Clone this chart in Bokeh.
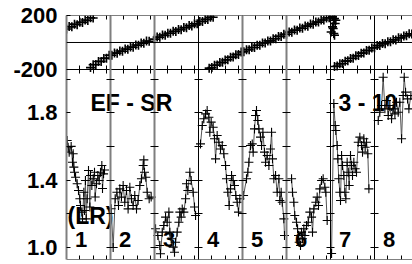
from bokeh.plotting import figure
from bokeh.models import (Range1d, LinearAxis, FixedTicker, PrintfTickFormatter,
                          CustomJSTickFormatter, Span)
from bokeh.embed import file_html
from bokeh.resources import INLINE
from bokeh.core.properties import value

FONT = "Liberation Sans"

# ---- day blocks (each day block spans 3.3 units on x) ----
day_starts = [0.0, 3.3, 6.6, 9.9, 13.2, 16.5, 19.8, 23.1]
day_labels = ["1", "2", "3", "4", "5", "6", "7", "8"]
divider_colors = ["#7f7f7f", "#7f7f7f", "#7f7f7f", "black", "#7f7f7f", "#7f7f7f", "black", "black"]
X_END = 25.95
x_ticks = [round(s + j, 2) for s in day_starts for j in range(4) if s + j < X_END]

# ---- top panel: phase (degrees) ----
phase_ticks = [-200, 200]
phA_x = [0.0, 0.2, 0.4, 0.6, 0.8, 1.0, 1.2, 1.4, 1.6, 1.8, 2.0]
phA_y = [100, 119, 116, 136, 131, 150, 149, 167, 163, 183, 181]
phB_x = [1.8, 2.0, 2.2, 2.4, 2.6, 2.8, 3.0, 3.2, 3.4, 3.6, 3.8, 4.0, 4.2, 4.4, 4.6, 4.8,
         5.0, 5.2, 5.4, 5.6, 5.8, 6.0, 6.2]
phB_y = [-186, -165, -163, -141, -140, -118, -116, -95, -94, -78, -79, -63, -65, -48, -50,
         -33, -35, -19, -20, -4, -6, 11, 9]
phC_x = [6.6, 6.8, 7.0, 7.2, 7.4, 7.6, 7.8, 8.0, 8.2, 8.4, 8.6, 8.8, 9.0, 9.2, 9.4, 9.6,
         9.8, 10.0, 10.2, 10.4, 10.6, 10.8, 11.0]
phC_y = [25, 40, 39, 55, 53, 69, 68, 83, 81, 97, 95, 111, 109, 125, 123, 139, 138, 155,
         155, 171, 171, 187, 187]
phE_x = [10.7, 10.9, 11.1, 11.3, 11.5, 11.7, 11.9, 12.1, 12.3, 12.5, 12.7, 12.9, 13.1, 13.3,
         13.5, 13.7, 13.9, 14.1, 14.3, 14.5, 14.7, 14.9, 15.1, 15.3, 15.5, 15.7, 15.9, 16.1,
         16.3, 16.5, 16.7, 16.9, 17.1, 17.3, 17.5, 17.7, 17.9, 18.1, 18.3, 18.5, 18.7, 18.9,
         19.1, 19.3, 19.5, 19.7]
phE_y = [-190, -186, -169, -167, -149, -147, -130, -128, -110, -108, -90, -88, -70, -69,
         -53, -53, -37, -37, -20, -20, -4, -4, 12, 12, 28, 28, 45, 45, 61, 61, 77, 76, 92,
         91, 107, 106, 122, 121, 137, 136, 152, 151, 167, 167, 182, 183]
phF_x = [19.95, 20.05, 20.15, 19.95, 20.05, 19.85, 20.1, 20.2, 20.0, 20.1]
phF_y = [190, 165, 141, 116, 67, 78, 178, 165, 104, 54]
phG_x = [20.1, 20.3, 20.5, 20.7, 20.9, 21.1, 21.3, 21.5, 21.7, 21.9, 22.1, 22.3, 22.5, 22.7,
         22.9, 23.1, 23.3, 23.5, 23.7, 23.9, 24.1, 24.3, 24.5, 24.7, 24.9, 25.1, 25.3, 25.5,
         25.7, 25.9]
phG_y = [-178, -175, -158, -156, -138, -136, -118, -117, -99, -97, -79, -78, -60, -58, -40,
         -39, -23, -23, -8, -9, 6, 5, 20, 19, 35, 34, 49, 50, 64, 63]

# ---- bottom panel: EF - SR ratio ----
ratio_major = [1.0, 1.4, 1.8]
ratio_minor = [1.2, 1.6, 2.0]
d1_x = [0.05, 0.12, 0.2, 0.35, 0.45, 0.5, 0.55, 0.6, 0.68, 0.8, 0.9, 1.0, 1.05, 1.15, 1.2,
        1.3, 1.35, 1.42, 1.48, 1.55, 1.65, 1.75, 1.8, 1.9, 2.0, 2.1, 2.15, 2.25, 2.35, 2.45,
        2.55, 2.65, 2.7, 2.78, 2.85]
d1_y = [1.635, 1.595, 1.566, 1.60, 1.506, 1.556, 1.477, 1.447, 1.417, 1.378, 1.338, 1.289,
        1.249, 1.21, 1.17, 1.328, 1.22, 1.398, 1.17, 1.289, 1.457, 1.24, 1.427, 1.368, 1.408,
        1.447, 1.30, 1.378, 1.427, 1.398, 1.447, 1.487, 1.35, 1.437, 1.46]
d2_x = [3.35, 3.5, 3.65, 3.78, 3.9, 4.0, 4.12, 4.25, 4.37, 4.5, 4.62, 4.75, 4.87, 5.0, 5.12,
        5.25, 5.37, 5.5, 5.62, 5.75, 5.8, 5.85, 5.95, 6.05, 6.2, 6.35]
d2_y = [1.23, 1.0, 1.289, 1.328, 1.249, 1.348, 1.299, 1.368, 1.269, 1.338, 1.229, 1.358,
        1.289, 1.249, 1.309, 1.229, 1.279, 1.368, 1.408, 1.487, 1.52, 1.447, 1.417, 1.328,
        1.289, 1.299]
d3_x = [6.68, 6.85, 7.0, 7.05, 7.18, 7.3, 7.43, 7.55, 7.68, 7.75, 7.85, 8.0, 8.1, 8.18, 8.3,
        8.43, 8.5, 8.6, 8.68, 8.8, 8.93, 9.0, 9.1, 9.25, 9.35, 9.5, 9.6, 9.68]
d3_y = [1.111, 1.071, 1.012, 0.963, 1.091, 1.131, 1.18, 1.15, 1.21, 1.091, 1.052, 1.002,
        0.972, 1.031, 1.091, 1.15, 1.21, 1.18, 1.229, 1.21, 1.289, 1.378, 1.338, 1.447,
        1.398, 1.328, 1.24, 1.19]
d4_x = [10.05, 10.18, 10.3, 10.43, 10.55, 10.68, 10.75, 10.85, 11.0, 11.1, 11.18, 11.3,
        11.43, 11.55, 11.68, 11.8, 11.93, 12.0, 12.1, 12.2, 12.3, 12.38, 12.5, 12.6, 12.7,
        12.8, 12.9, 13.0]
d4_y = [1.615, 1.724, 1.764, 1.793, 1.813, 1.773, 1.684, 1.744, 1.714, 1.645, 1.526, 1.665,
        1.625, 1.585, 1.605, 1.556, 1.487, 1.408, 1.328, 1.249, 1.348, 1.427, 1.398, 1.368,
        1.309, 1.269, 1.21, 1.289]
d5_x = [13.28, 13.5, 13.6, 13.68, 13.8, 13.93, 14.0, 14.1, 14.18, 14.25, 14.35, 14.43, 14.55,
        14.63, 14.73, 14.85, 14.93, 15.05, 15.18, 15.3, 15.38, 15.45, 15.55, 15.68, 15.8,
        15.93, 16.0, 16.1, 16.18, 16.3, 16.35]
d5_y = [1.309, 1.408, 1.447, 1.506, 1.605, 1.615, 1.566, 1.704, 1.783, 1.813, 1.754, 1.704,
        1.655, 1.605, 1.684, 1.566, 1.506, 1.546, 1.487, 1.585, 1.684, 1.526, 1.408, 1.427,
        1.328, 1.408, 1.279, 1.328, 1.269, 1.17, 1.071]
d6_x = [16.88, 16.95, 17.05, 17.12, 17.25, 17.33, 17.4, 17.45, 17.55, 17.63, 17.7, 17.8,
        17.88, 18.0, 18.13, 18.25, 18.38, 18.45, 18.55, 18.7, 18.8, 18.9, 19.0, 19.13, 19.25,
        19.38, 19.45, 19.55]
d6_y = [1.408, 1.328, 1.269, 1.19, 1.15, 1.111, 1.071, 1.031, 1.012, 1.091, 1.052, 1.111,
        1.071, 1.131, 1.15, 1.21, 1.18, 1.091, 1.229, 1.269, 1.299, 1.249, 1.348, 1.398,
        1.408, 1.358, 1.328, 1.16]
d7_x = [19.88, 20.05, 20.15, 20.2, 20.3, 20.35, 20.42, 20.5, 20.55, 20.63, 20.7, 20.8, 20.88,
        20.95, 21.05, 21.13, 21.2, 21.3, 21.38, 21.45, 21.55, 21.65, 21.75, 21.88, 22.0,
        22.13, 22.2, 22.3, 22.4, 22.5, 22.6, 22.68]
d7_y = [0.964, 1.855, 1.724, 1.694, 1.605, 1.526, 1.408, 1.328, 1.279, 1.546, 1.487, 1.427,
        1.328, 1.289, 1.506, 1.447, 1.368, 1.546, 1.487, 1.427, 1.506, 1.467, 1.447, 1.625,
        1.655, 1.605, 1.566, 1.645, 1.595, 1.625, 1.556, 1.348]
d8_x = [23.38, 23.5, 23.63, 23.75, 23.88, 24.0, 24.13, 24.25, 24.38, 24.5, 24.63, 24.75,
        24.88, 25.0, 25.13, 25.25, 25.33, 25.43, 25.58, 25.68, 25.83]
d8_y = [1.754, 1.803, 1.843, 2.01, 1.823, 1.872, 1.783, 1.843, 1.764, 1.823, 1.793, 1.862,
        1.803, 1.862, 1.645, 1.902, 2.01, 1.922, 1.882, 1.823, 1.902]

phase_sets = [(phA_x, phA_y), (phB_x, phB_y), (phC_x, phC_y), (phE_x, phE_y),
              (phF_x, phF_y), (phG_x, phG_y)]
ratio_sets = [(d1_x, d1_y), (d2_x, d2_y), (d3_x, d3_y), (d4_x, d4_y),
              (d5_x, d5_y), (d6_x, d6_y), (d7_x, d7_y), (d8_x, d8_y)]

# ---- ranges: lower panel uses the main y range, upper panel the "phase" range ----
RATIO_LO, RATIO_SPLIT = 0.9288, 2.0564
PX_PER_RATIO = 168.5
PANEL_TOP_PX = 54.0
RATIO_HI = round(RATIO_SPLIT + PANEL_TOP_PX / PX_PER_RATIO, 4)
PHASE_HI = 200.0
PHASE_LO = -200.0 - (RATIO_SPLIT - RATIO_LO) * PX_PER_RATIO * 400.0 / PANEL_TOP_PX


def phase_to_ratio(v):
    return round(RATIO_SPLIT + (v + 200.0) / 400.0 * (RATIO_HI - RATIO_SPLIT), 4)


phase_tick_pos = [phase_to_ratio(v) for v in phase_ticks]
label_overrides = {t: "%.1f" % t for t in ratio_major}
for pos, v in zip(phase_tick_pos, phase_ticks):
    label_overrides[pos] = "%d" % v

blank = CustomJSTickFormatter(code="return ''")

p = figure(width=412, height=264, x_range=Range1d(0, X_END),
           y_range=Range1d(RATIO_LO, RATIO_HI),
           output_backend="svg", toolbar_location=None,
           min_border_left=66, min_border_right=0, min_border_top=15, min_border_bottom=5)
p.extra_y_ranges = {"phase": Range1d(PHASE_LO, PHASE_HI)}
p.outline_line_color = None
p.grid.visible = False

# main left axis: ratio labels and the phase labels of the upper panel
ly = p.yaxis[0]
ly.ticker = FixedTicker(ticks=ratio_major + phase_tick_pos, minor_ticks=ratio_minor)
ly.formatter = PrintfTickFormatter(format="%.1f")
ly.major_label_overrides = label_overrides
ly.major_tick_in = 4
ly.major_tick_out = 0
ly.minor_tick_in = 4
ly.minor_tick_out = 0
ly.axis_line_color = divider_colors[0]
ly.axis_line_width = 2
ly.major_tick_line_color = "black"
ly.minor_tick_line_color = "black"
ly.major_label_text_font = FONT
ly.major_label_text_font_style = "bold"
ly.major_label_text_font_size = "22px"
ly.major_label_text_color = "black"
ly.major_label_standoff = 9

# x axes: bottom edge, panel separator, top edge (ticks only)
bx = p.xaxis[0]
bx.fixed_location = RATIO_LO
bx.ticker = FixedTicker(ticks=x_ticks, minor_ticks=[])
bx.formatter = blank
bx.major_tick_in = 4
bx.major_tick_out = 0
bx.minor_tick_line_color = None
bx.axis_line_color = "black"
bx.major_tick_line_color = "black"

sep = LinearAxis(y_range_name="phase", fixed_location=-200,
                 ticker=FixedTicker(ticks=x_ticks, minor_ticks=[]), formatter=blank,
                 major_tick_in=4, major_tick_out=4, minor_tick_line_color=None,
                 axis_line_color="black", major_tick_line_color="black")
p.add_layout(sep, "below")
tx = LinearAxis(y_range_name="phase", fixed_location=PHASE_HI,
                ticker=FixedTicker(ticks=x_ticks, minor_ticks=[]), formatter=blank,
                major_tick_in=4, major_tick_out=0, minor_tick_line_color=None,
                axis_line_color="black", major_tick_line_color="black")
p.add_layout(tx, "above")

# day dividers with tick crosses
for s, c in zip(day_starts[1:], divider_colors[1:]):
    ax = LinearAxis(fixed_location=s,
                    ticker=FixedTicker(ticks=ratio_major + ratio_minor, minor_ticks=[]),
                    formatter=blank, major_tick_in=4, major_tick_out=4,
                    minor_tick_line_color=None, axis_line_color=c,
                    axis_line_width=2 if c != "black" else 1,
                    major_tick_line_color="black")
    p.add_layout(ax, "left")

# zero phase line
p.add_layout(Span(location=0, dimension="width", y_range_name="phase",
                  line_color="black", line_width=1))

# texts
txt = dict(text_font=value(FONT), text_font_style="bold", text_color="black",
           text_baseline="alphabetic")
p.text(x=[1.8], y=[1.855], text=["EF - SR"], text_font_size=value("23px"),
       text_align="left", **txt)
p.text(x=[20.4], y=[1.86], text=["3 - 10"], text_font_size=value("23px"),
       text_align="left", **txt)
p.text(x=[0.075], y=[1.184], text=["(LR)"], text_font_size=value("23px"),
       text_align="left", **txt)
p.text(x=[s + 1.1 for s in day_starts], y=[1.047] * len(day_starts), text=day_labels,
       text_font_size=value("22px"), text_align="center", **txt)

# phase points
for xs, ys in phase_sets:
    p.scatter(xs, ys, y_range_name="phase", marker="cross", size=9,
              line_color="black", line_width=1.6)

# ratio series
for xs, ys in ratio_sets:
    p.line(xs, ys, line_color="#555555", line_width=1)
    p.scatter(xs, ys, marker="cross", size=9, line_color="black", line_width=1.1)

open("out.html", "w").write(file_html(p, INLINE))
